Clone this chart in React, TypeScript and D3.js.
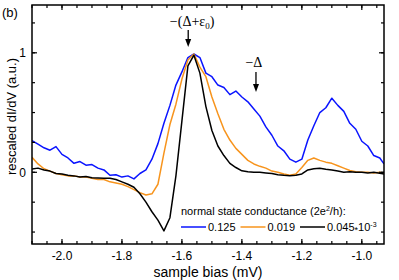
import React from 'react';
import * as d3 from 'd3';

// sample bias (mV), shared by all three spectra
const bias = [
  -2.10, -2.08, -2.06, -2.04, -2.02, -2.00, -1.98, -1.96, -1.94, -1.92,
  -1.90, -1.88, -1.86, -1.84, -1.82, -1.80, -1.78, -1.76, -1.74, -1.72,
  -1.70, -1.68, -1.66, -1.64, -1.62, -1.60, -1.58, -1.56, -1.54, -1.52,
  -1.50, -1.48, -1.46, -1.44, -1.42, -1.40, -1.38, -1.36, -1.34, -1.32,
  -1.30, -1.28, -1.26, -1.24, -1.22, -1.20, -1.18, -1.16, -1.14, -1.12,
  -1.10, -1.08, -1.06, -1.04, -1.02, -1.00, -0.98, -0.96, -0.94, -0.926,
];

// G_N = 0.125 (2e^2/h)
const g125 = [
  0.265, 0.235, 0.205, 0.185, 0.215, 0.15, 0.12, 0.075, 0.09, 0.06,
  0.065, 0.035, 0.02, -0.025, -0.02, -0.04, -0.03, -0.055, -0.01, 0.02,
  0.11, 0.24, 0.41, 0.56, 0.73, 0.84, 0.96, 0.99, 0.96, 0.83,
  0.80, 0.73, 0.71, 0.65, 0.68, 0.63, 0.59, 0.53, 0.47, 0.38,
  0.31, 0.22, 0.18, 0.11, 0.085, 0.11, 0.27, 0.39, 0.50, 0.54,
  0.62, 0.56, 0.51, 0.41, 0.36, 0.26, 0.22, 0.14, 0.12, 0.07,
];

// G_N = 0.019 (2e^2/h)
const g019 = [
  0.125, 0.07, 0.03, 0.01, -0.01, -0.02, -0.03, -0.03, -0.04, -0.04,
  -0.05, -0.06, -0.06, -0.08, -0.09, -0.10, -0.12, -0.145, -0.17, -0.19,
  -0.18, -0.10, 0.16, 0.40, 0.57, 0.78, 0.94, 0.99, 0.88, 0.80,
  0.63, 0.49, 0.36, 0.27, 0.20, 0.15, 0.10, 0.07, 0.05, 0.035,
  0.01, 0.0, -0.015, -0.025, -0.015, 0.04, 0.10, 0.12, 0.10, 0.085,
  0.075, 0.055, 0.035, 0.015, 0.005, 0.0, 0.0, -0.005, 0.0, -0.008,
];

// G_N = 0.045e-3 (2e^2/h)
const g045 = [
  0.028, 0.035, 0.02, 0.01, -0.01, -0.015, -0.025, -0.03, -0.04, -0.035,
  -0.045, -0.047, -0.05, -0.05, -0.06, -0.08, -0.10, -0.125, -0.18, -0.25,
  -0.33, -0.40, -0.49, -0.38, -0.03, 0.43, 0.89, 0.98, 0.83, 0.55,
  0.35, 0.22, 0.14, 0.075, 0.04, 0.012, 0.005, 0.0, 0.0, -0.005,
  -0.01, -0.02, -0.025, -0.028, -0.025, -0.014, 0.02, 0.03, 0.034, 0.025,
  0.02, 0.01, 0.0, 0.005, 0.0, 0.0, -0.005, 0.0, -0.008, -0.014,
];

const series = [
  { name: '0.125', values: g125, color: '#0a14ff' },
  { name: '0.019', values: g019, color: '#f7941d' },
  { name: '0.045', values: g045, color: '#000000', times: '10', exp: '-3' },
];

const xMajor = [-2.0, -1.8, -1.6, -1.4, -1.2, -1.0];
const yMajor = [0, 1];

const W = 399;
const H = 280;
const m = { left: 32, right: 15, top: 5, bottom: 36 };

function Arrow({ x, yFrom, yTo }: { x: number; yFrom: number; yTo: number }) {
  return (
    <g>
      <line x1={x} x2={x} y1={yFrom} y2={yTo - 6} stroke="#000" strokeWidth={1.3} />
      <path d={`M${x - 3},${yTo - 8} L${x + 3},${yTo - 8} L${x},${yTo} Z`} fill="#000" />
    </g>
  );
}

export default function App() {
  const x = d3.scaleLinear().domain([-2.1, -0.926]).range([m.left, W - m.right]);
  const y = d3.scaleLinear().domain([-0.6, 1.4]).range([H - m.bottom, m.top]);
  const line = d3.line<number>()
    .x((_, i) => x(bias[i]))
    .y((d) => y(d));

  const xMinor = d3.range(-2.1, -0.925, 0.05);
  const yMinor = d3.range(-0.5, 1.3, 0.25);
  const x0 = m.left, x1 = W - m.right, y0 = H - m.bottom, y1 = m.top;
  const font = 'Liberation Sans, Arial, sans-serif';
  const serif = 'Liberation Serif, Times New Roman, serif';

  return (
    <svg width={W} height={H} style={{ position: 'absolute', left: 0, top: 0 }} fontFamily={font}>
      <defs>
        <clipPath id="plot">
          <rect x={x0} y={y1} width={x1 - x0} height={y0 - y1} />
        </clipPath>
      </defs>

      <g clipPath="url(#plot)">
        {series.map((s) => (
          <path key={s.name} d={line(s.values) || ''} fill="none" stroke={s.color} strokeWidth={1.5} strokeLinejoin="round" />
        ))}
      </g>

      {/* ticks, inward on all four sides */}
      <g stroke="#000" strokeWidth={1.2}>
        {xMinor.map((v, i) => (
          <g key={'xm' + i}>
            <line x1={x(v)} x2={x(v)} y1={y0} y2={y0 - 3} />
            <line x1={x(v)} x2={x(v)} y1={y1} y2={y1 + 3} />
          </g>
        ))}
        {xMajor.map((v) => (
          <g key={'xM' + v}>
            <line x1={x(v)} x2={x(v)} y1={y0} y2={y0 - 5} />
            <line x1={x(v)} x2={x(v)} y1={y1} y2={y1 + 5} />
          </g>
        ))}
        {yMinor.map((v, i) => (
          <g key={'ym' + i}>
            <line x1={x0} x2={x0 + 3} y1={y(v)} y2={y(v)} />
            <line x1={x1} x2={x1 - 3} y1={y(v)} y2={y(v)} />
          </g>
        ))}
        {yMajor.map((v) => (
          <g key={'yM' + v}>
            <line x1={x0} x2={x0 + 5} y1={y(v)} y2={y(v)} />
            <line x1={x1} x2={x1 - 5} y1={y(v)} y2={y(v)} />
          </g>
        ))}
      </g>
      <rect x={x0} y={y1} width={x1 - x0} height={y0 - y1} fill="none" stroke="#000" strokeWidth={1.5} />

      {xMajor.map((v) => (
        <text key={'xl' + v} x={x(v)} y={y0 + 16} fontSize={12} textAnchor="middle">{v.toFixed(1)}</text>
      ))}
      {yMajor.map((v) => (
        <text key={'yl' + v} x={x0 - 6} y={y(v) + 4.5} fontSize={12} textAnchor="end">{v}</text>
      ))}

      <text x={(x0 + x1) / 2} y={277} fontSize={14} textAnchor="middle">sample bias (mV)</text>
      <text transform={`translate(16,${(y0 + y1) / 2 - 8}) rotate(-90)`} fontSize={13} textAnchor="middle">rescaled dI/dV (a.u.)</text>
      <text x={2} y={17} fontSize={13}>(b)</text>

      {/* annotations */}
      <text x={x(-1.566)} y={26} fontSize={14} textAnchor="middle" fontFamily={serif}>
        −(Δ+ε<tspan fontSize={9} dy={3}>0</tspan><tspan dy={-3}>)</tspan>
      </text>
      <Arrow x={x(-1.579)} yFrom={30} yTo={47} />
      <text x={x(-1.36)} y={67} fontSize={14} textAnchor="middle" fontFamily={serif}>−Δ</text>
      <Arrow x={x(-1.353)} yFrom={72} yTo={92} />

      {/* legend */}
      <text x={181} y={215} fontSize={11}>
        normal state conductance (2e<tspan fontSize={7} dy={-4}>2</tspan><tspan dy={4}>/h):</tspan>
      </text>
      {series.map((s, i) => {
        const lx = 181 + i * 59.5;
        return (
          <g key={'lg' + s.name}>
            <line x1={lx} x2={lx + 25} y1={227} y2={227} stroke={s.color} strokeWidth={1.5} />
            <text x={lx + 27} y={231} fontSize={11}>
              {s.name}
              {s.times ? <tspan fontSize={9} dy={2}>*</tspan> : null}
              {s.times ? <tspan dy={-2}>{s.times}</tspan> : null}
              {s.exp ? <tspan fontSize={7} dy={-4}>{s.exp}</tspan> : null}
            </text>
          </g>
        );
      })}
    </svg>
  );
}
